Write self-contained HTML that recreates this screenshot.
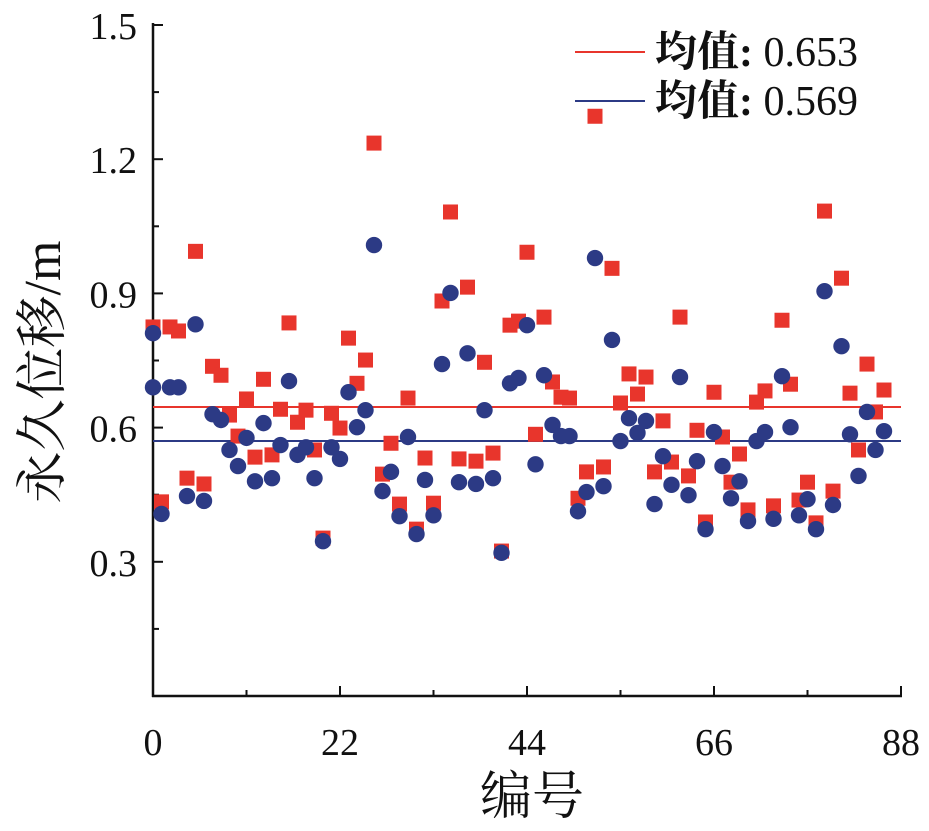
<!DOCTYPE html>
<html><head><meta charset="utf-8"><style>
body{margin:0;background:#fff;}
svg text{font-family:"Liberation Serif","Noto Serif CJK SC",serif;fill:#111;}
</style></head><body>
<svg id="chart" width="929" height="826" xmlns="http://www.w3.org/2000/svg">
<g id="axes"></g><g id="marks"></g><g id="legend"></g>
</svg>
<script>
const redValues=[0.825,0.434,0.825,0.816,0.487,0.994,0.474,0.737,0.717,0.628,0.581,0.664,0.534,0.708,0.539,0.641,0.834,0.612,0.639,0.55,0.353,0.632,0.599,0.8,0.699,0.751,1.236,0.496,0.565,0.429,0.666,0.373,0.532,0.431,0.883,1.082,0.53,0.914,0.525,0.746,0.543,0.324,0.829,0.838,0.992,0.585,0.847,0.702,0.668,0.666,0.442,0.501,1.296,0.512,0.956,0.655,0.72,0.675,0.713,0.501,0.615,0.523,0.847,0.492,0.594,0.389,0.679,0.579,0.478,0.541,0.416,0.657,0.682,0.425,0.84,0.697,0.438,0.478,0.387,1.084,0.458,0.934,0.677,0.55,0.742,0.635,0.684];
const blueIndex=[0,0,1,2,3,4,5,6,7,8,9,10,11,12,13,14,15,16,17,18,19,20,21,22,23,24,25,26,27,28,29,30,31,32,33,34,35,36,37,38,39,40,41,42,43,44,45,46,47,48,49,50,51,52,53,54,55,56,57,58,59,60,61,62,63,64,65,66,67,68,69,70,71,72,73,74,75,76,77,78,79,80,81,82,83,84,85,86];
const blueValues=[0.811,0.69,0.407,0.69,0.69,0.447,0.831,0.436,0.63,0.617,0.55,0.514,0.577,0.48,0.61,0.487,0.561,0.704,0.539,0.556,0.487,0.346,0.556,0.53,0.679,0.601,0.639,1.008,0.458,0.501,0.402,0.579,0.362,0.483,0.404,0.742,0.901,0.478,0.766,0.474,0.639,0.487,0.32,0.699,0.711,0.829,0.518,0.717,0.606,0.581,0.581,0.413,0.456,0.979,0.469,0.796,0.57,0.621,0.588,0.615,0.429,0.536,0.472,0.713,0.449,0.525,0.373,0.59,0.514,0.442,0.48,0.391,0.57,0.59,0.396,0.715,0.601,0.404,0.44,0.373,0.905,0.427,0.782,0.585,0.492,0.635,0.55,0.592];
const meanValues=[0.646,0.570];
const legendLabels=["0.653","0.569"];
const yTicks=[0.3,0.6,0.9,1.2,1.5];
const yMinorTicks=[0.15,0.45,0.75,1.05,1.35];
const xTicks=[0,22,44,66,88];
const xMinorTicks=[11,33,55,77];

const NS="http://www.w3.org/2000/svg";
const X0=153,X1=901,Y0=696,YTOP=25;
const sx=v=>X0+(v-0)*(X1-X0)/88;
const sy=v=>Y0-v*(Y0-YTOP)/1.5;
function mk(tag,attrs,parent){const e=document.createElementNS(NS,tag);for(const k in attrs)e.setAttribute(k,attrs[k]);parent.appendChild(e);return e;}
const axes=document.getElementById('axes'),marks=document.getElementById('marks'),legend=document.getElementById('legend');

let a=mk('line',{x1:X0,y1:YTOP-2,x2:X0,y2:Y0+1,stroke:'#111','stroke-width':2.5},axes);

a=mk('line',{x1:X0-1,y1:Y0,x2:X1+1,y2:Y0,stroke:'#111','stroke-width':2.5},axes);

yTicks.forEach(v=>{const y=sy(v);
 let t=mk('line',{x1:X0,y1:y,x2:X0+10,y2:y,stroke:'#111','stroke-width':2},axes);
 
 let l=mk('text',{x:137,y:y+14,'text-anchor':'end','font-size':38},axes);l.textContent=v.toFixed(1);
 });
yMinorTicks.forEach(v=>{const y=sy(v);
 let t=mk('line',{x1:X0,y1:y,x2:X0+6,y2:y,stroke:'#111','stroke-width':2},axes);
 });
xTicks.forEach(v=>{const x=sx(v);
 let t=mk('line',{x1:x,y1:Y0,x2:x,y2:Y0-10,stroke:'#111','stroke-width':2},axes);
 
 let l=mk('text',{x:x,y:755,'text-anchor':'middle','font-size':38},axes);l.textContent=v;
 });
xMinorTicks.forEach(v=>{const x=sx(v);
 let t=mk('line',{x1:x,y1:Y0,x2:x,y2:Y0-6,stroke:'#111','stroke-width':2},axes);
 });
let xt=mk('text',{x:532,y:814,'text-anchor':'middle','font-size':52},axes);xt.textContent='编号';

let yt=mk('text',{x:0,y:0,'text-anchor':'middle','font-size':52,transform:'translate(60,372) rotate(-90)'},axes);yt.textContent='永久位移/m';


const colors=['#e8352c','#2c3a85'];
meanValues.forEach((v,i)=>{
 let l=mk('line',{x1:X0,y1:sy(v),x2:X1,y2:sy(v),stroke:colors[i],'stroke-width':2},marks);
 });
redValues.forEach((v,i)=>{
 let r=mk('rect',{x:sx(i)-7.5,y:sy(v)-7.5,width:15,height:15,fill:colors[0]},marks);
 });
blueValues.forEach((v,i)=>{
 let c=mk('circle',{cx:sx(blueIndex[i]),cy:sy(v),r:8.2,fill:colors[1]},marks);
 });
legendLabels.forEach((s,i)=>{const y=52+i*49;
 let l=mk('line',{x1:575,y1:y,x2:645,y2:y,stroke:colors[i],'stroke-width':2},legend);
 
 let t=mk('text',{x:655,y:y+14,'font-size':42},legend);
 t.innerHTML='<tspan font-weight="bold">均值:</tspan> '+s;
 });
</script>
</body></html>
